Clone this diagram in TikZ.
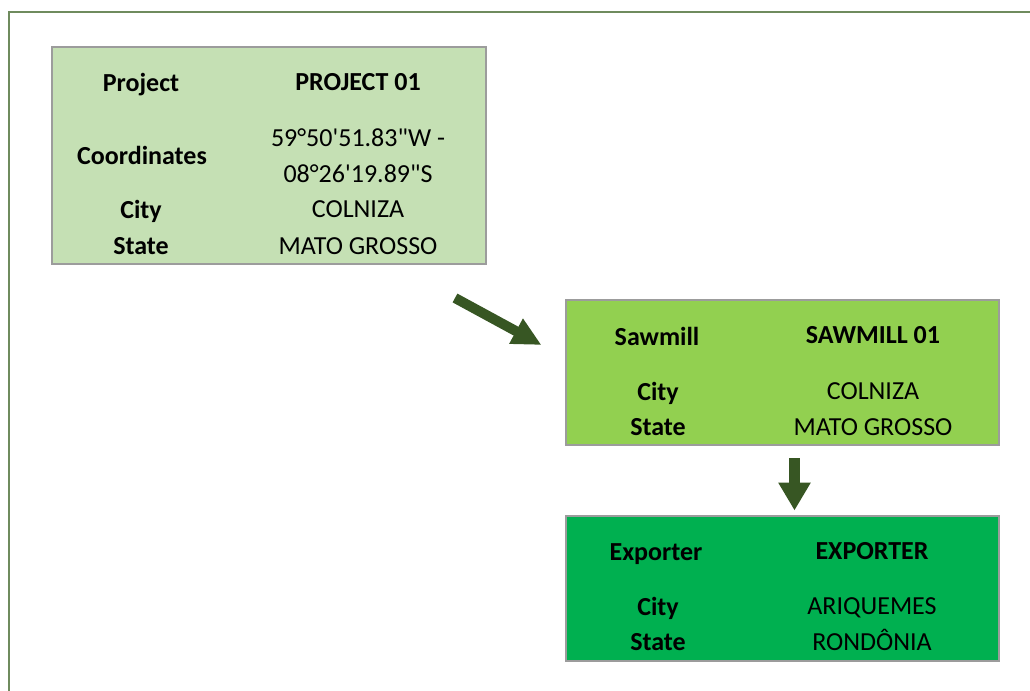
\documentclass[tikz,border=0pt]{standalone}
\usepackage{fontspec}
\setmainfont{Carlito}
\usepackage{tikz}
\usetikzlibrary{arrows.meta}
\definecolor{framegreen}{HTML}{6F8B5E}
\definecolor{boxgrey}{HTML}{9C9C9C}
\definecolor{projectfill}{HTML}{C5E0B4}
\definecolor{sawmillfill}{HTML}{92D050}
\definecolor{exporterfill}{HTML}{00B050}
\definecolor{arrowgreen}{HTML}{375623}

\begin{document}
\begin{tikzpicture}[x=0.75pt,y=-0.75pt,
    info_box/.style={draw=boxgrey,line width=1.5pt,inner sep=0pt,minimum width=324.75pt},
    key_text/.style={anchor=base,inner sep=0pt,font=\fontsize{19.5}{23}\selectfont\bfseries},
    value_text/.style={anchor=base,inner sep=0pt,font=\fontsize{19.5}{23}\selectfont},
    flow_arrow/.style={draw=arrowgreen,line width=7.5pt,-{Triangle[width=20pt,length=21.75pt]}}]
    \useasboundingbox (0,0) rectangle (1030,691);
    \draw[framegreen,line width=1.5pt] (9,691) -- (9,12) -- (1030,12);

    % project
    \node[info_box,fill=projectfill,minimum width=325.5pt,minimum height=162.75pt] (project) at (269,155.5) {};
    \node[key_text] (p_name) at (141,92) {Project};
    \node[key_text] (p_name_v) at (358,91) {PROJECT 01};
    \node[key_text] (p_coord) at (142,165) {Coordinates};
    \node[value_text] (p_coord_v1) at (358,146.7) {59°50\textquotesingle 51.83\textquotedbl W -};
    \node[value_text] (p_coord_v2) at (358,182.7) {08°26\textquotesingle 19.89\textquotedbl S};
    \node[key_text] (p_city) at (141,219) {City};
    \node[value_text] (p_city_v) at (358,218) {COLNIZA};
    \node[key_text] (p_state) at (141,255) {State};
    \node[value_text] (p_state_v) at (358,255) {MATO GROSSO};

    % sawmill
    \node[info_box,fill=sawmillfill,minimum height=108.75pt] (sawmill) at (782,372.5) {};
    \node[key_text] (s_name) at (657,345) {Sawmill};
    \node[key_text] (s_name_v) at (873,343) {SAWMILL 01};
    \node[key_text] (s_city) at (658,400) {City};
    \node[value_text] (s_city_v) at (873,399) {COLNIZA};
    \node[key_text] (s_state) at (658,435) {State};
    \node[value_text] (s_state_v) at (873,435) {MATO GROSSO};

    % exporter
    \node[info_box,fill=exporterfill,minimum height=108.75pt] (exporter) at (782,588.5) {};
    \node[key_text] (e_name) at (656,560) {Exporter};
    \node[key_text] (e_name_v) at (872,559) {EXPORTER};
    \node[key_text] (e_city) at (658,615) {City};
    \node[value_text] (e_city_v) at (872,614) {ARIQUEMES};
    \node[key_text] (e_state) at (658,650) {State};
    \node[value_text] (e_state_v) at (872,650) {RONDÔNIA};

    % arrows
    \coordinate (a1_from) at (455,298);
    \coordinate (a1_to) at (541.5,345);
    \coordinate (a2_from) at (794.5,458);
    \coordinate (a2_to) at (794.5,510.5);
    \draw[flow_arrow] (a1_from) -- (a1_to);
    \draw[flow_arrow,line width=8.25pt,-{Triangle[width=23pt,length=21pt]}] (a2_from) -- (a2_to);
\end{tikzpicture}
\end{document}
